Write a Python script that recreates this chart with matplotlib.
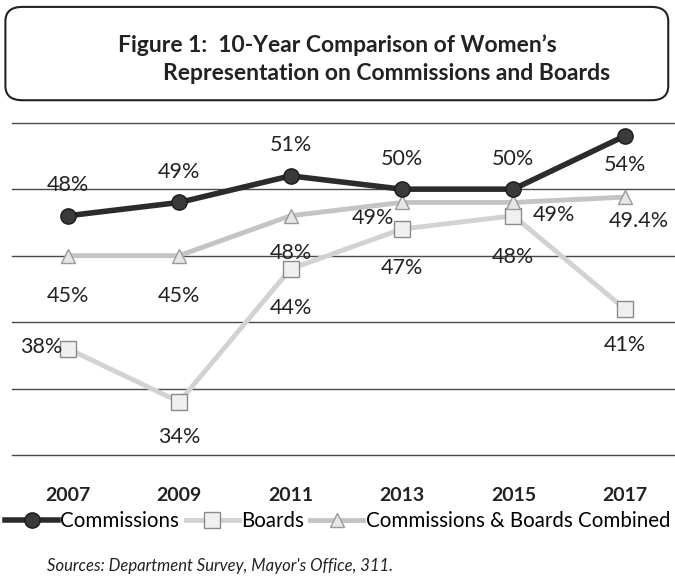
import matplotlib.pyplot as plt
from matplotlib.patches import FancyBboxPatch

plt.rcParams['font.family'] = ['Lato', 'DejaVu Sans']

# data
years = ['2007', '2009', '2011', '2013', '2015', '2017']
commissions = [48, 49, 51, 50, 50, 54]
boards = [38, 34, 44, 47, 48, 41]
combined = [45, 45, 48, 49, 49, 49.4]
combined_labels = ['45%', '45%', '48%', '49%', '49%', '49.4%']

# label offsets (points)
comm_off = [(0, 22), (0, 22), (0, 22), (0, 22), (0, 22), (0, -21)]
board_off = [(-19, 1), (0, -25), (0, -28), (0, -28), (0, -30), (0, -26)]
comb_off = [(0, -29), (0, -29), (0, -27), (-21, -11), (29, -9), (10, -17)]

fig = plt.figure(figsize=(6.75, 5.76), dpi=100)
ax = fig.add_axes([0.018, 0.21, 0.99, 0.577])
x = range(len(years))

ax.plot(x, boards, color='#d2d2d2', lw=3.5, marker='s', ms=11,
        mfc='#f0f0f0', mec='#8a8a8a', mew=1, zorder=3)
ax.plot(x, combined, color='#c4c4c4', lw=3.5, marker='^', ms=10,
        mfc='#e6e6e6', mec='#9a9a9a', mew=1, zorder=4)
ax.plot(x, commissions, color='#2b2b2b', lw=4, marker='o', ms=11,
        mfc='#3a3a3a', mec='#1a1a1a', zorder=5)

for i in x:
    ax.annotate(f'{commissions[i]}%', (i, commissions[i]), xytext=comm_off[i],
                textcoords='offset points', ha='center', va='center', fontsize=15.5, color='#222222')
    ax.annotate(f'{boards[i]}%', (i, boards[i]), xytext=board_off[i],
                textcoords='offset points', ha='center', va='center', fontsize=15.5, color='#222222')
    ax.annotate(combined_labels[i], (i, combined[i]), xytext=comb_off[i],
                textcoords='offset points', ha='center', va='center', fontsize=15.5, color='#222222')

for g in [30, 35, 40, 45, 50, 55]:
    ax.axhline(g, color='#4a4a4a', lw=1, zorder=1, clip_on=False)

ax.set_xlim(-0.5, 5.5)
ax.set_ylim(30, 55)
ax.set_yticks([])
ax.set_xticks(list(x))
ax.set_xticklabels(years, fontsize=14, fontweight='bold', color='#222222')
ax.tick_params(axis='x', length=0, pad=23)
for s in ax.spines.values():
    s.set_visible(False)

handles = ax.get_lines()[:3]
fig.legend([handles[2], handles[0], handles[1]],
           ['Commissions', 'Boards', 'Commissions & Boards Combined'],
           loc='center', bbox_to_anchor=(0.5, 0.095), ncol=3, frameon=False,
           fontsize=14.8, handlelength=2.6, handletextpad=0.1, columnspacing=0.3,
           borderaxespad=0, borderpad=0)

# title box
box = FancyBboxPatch((0.008, 0.826), 0.982, 0.162, boxstyle='round,pad=0,rounding_size=0.025',
                     transform=fig.transFigure, fc='white', ec='#222222', lw=1.5)
fig.patches.append(box)
fig.text(118 / 675, 1 - 45 / 576, "Figure 1:  10-Year Comparison of Women\u2019s",
         fontsize=16.5, fontweight='bold', va='center', ha='left', color='#222222')
fig.text(163 / 675, 1 - 73 / 576, 'Representation on Commissions and Boards',
         fontsize=16.5, fontweight='bold', va='center', ha='left', color='#222222')

fig.text(47 / 675, 1 - 566 / 576, "Sources: Department Survey, Mayor's Office, 311.",
         fontsize=12, style='italic', va='center', ha='left', color='#222222')

plt.savefig('out.png', dpi=100)
